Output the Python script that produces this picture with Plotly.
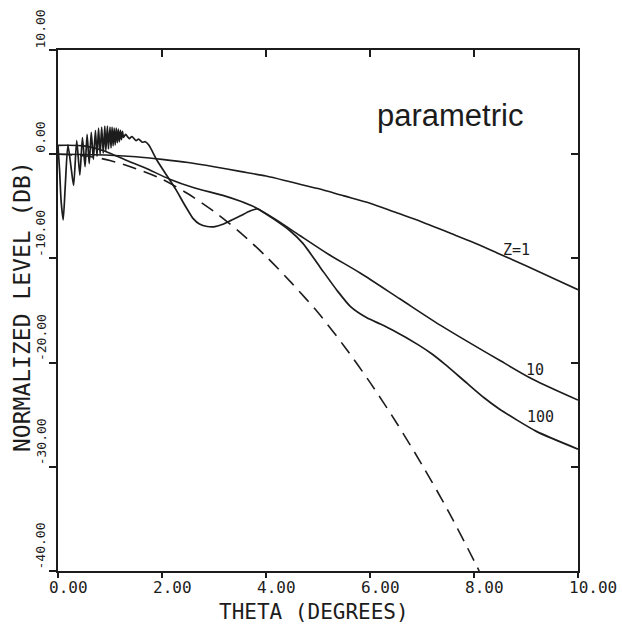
import plotly.graph_objects as go

# ---------------- data ----------------
z1_theta = [0.0, 0.5, 1.0, 1.5, 2.0, 2.5, 3.0, 3.5, 4.0, 4.5, 5.0, 5.5, 6.0, 6.5, 7.0, 7.5, 8.0, 8.5, 9.0, 9.5, 10.0]
z1_db = [0.0, -0.03, -0.1, -0.25, -0.5, -0.8, -1.2, -1.65, -2.1, -2.7, -3.3, -4.0, -4.7, -5.6, -6.5, -7.5, -8.5, -9.6, -10.7, -11.85, -13.0]

z10_theta = [0.0, 0.5, 0.8, 1.0, 1.3, 1.67, 2.15, 2.6, 3.17, 3.5, 3.83, 4.2, 4.65, 5.2, 5.81, 6.58, 7.35, 8.5, 9.13, 10.0]
z10_db = [0.85, 0.8, 0.45, 0.1, -0.55, -1.3, -2.4, -3.2, -3.95, -4.5, -5.2, -6.3, -7.8, -9.6, -11.4, -13.9, -16.4, -19.8, -21.6, -23.6]

z100_theta = [0.0, 0.03, 0.06, 0.10, 0.14, 0.19, 0.25, 0.30, 0.36, 0.42, 0.47, 0.52, 0.56, 0.60,
              0.64, 0.68, 0.72, 0.75, 0.78, 0.81, 0.84, 0.87, 0.90, 0.92, 0.95, 0.97, 1.00, 1.02,
              1.04, 1.06, 1.08, 1.10, 1.12, 1.14, 1.16, 1.18, 1.20, 1.22, 1.24, 1.26, 1.30, 1.37,
              1.42, 1.50, 1.55, 1.62, 1.68, 1.75, 1.90, 2.02, 2.15, 2.28, 2.40, 2.50, 2.60, 2.72,
              2.87, 3.02, 3.17, 3.33, 3.50, 3.69, 3.83, 4.00, 4.20, 4.45, 4.71, 5.04, 5.37, 5.62,
              5.94, 6.20, 6.44, 6.93, 7.20, 7.45, 7.87, 8.20, 8.50, 9.20, 10.0]
z100_db = [0.8, -1.5, -4.5, -6.3, -3.0, 0.9, -1.2, -3.0, 1.3, -2.0, 1.6, -1.2, 1.9, -0.9,
           2.1, -0.5, 2.3, -0.2, 2.5, 0.0, 2.6, 0.1, 2.7, 0.3, 2.7, 0.5, 2.6, 0.6,
           2.6, 0.8, 2.5, 0.9, 2.5, 1.1, 2.4, 1.2, 2.3, 1.4, 2.2, 1.6, 1.9, 1.5,
           1.7, 1.3, 1.45, 1.15, 1.2, 0.85, -0.56, -1.5, -2.47, -3.5, -4.56, -5.4, -6.18, -6.7,
           -6.94, -6.95, -6.73, -6.35, -5.94, -5.45, -5.25, -5.75, -6.4, -7.3, -8.56, -10.84, -13.1, -14.6,
           -15.7, -16.3, -16.9, -18.3, -19.2, -20.2, -22.0, -23.4, -24.5, -26.6, -28.3]

dash_theta = [0.0, 0.5, 1.0, 1.5, 2.0, 2.5, 3.0, 3.5, 4.0, 4.5, 5.0, 5.5, 6.0, 6.5, 7.0, 7.5, 8.0, 8.1]
dash_db = [0.0, -0.15, -0.6, -1.4, -2.4, -3.8, -5.5, -7.5, -9.8, -12.4, -15.2, -18.4, -21.9, -25.7, -29.8, -34.2, -39.0, -40.0]

x_ticks = [0, 2, 4, 6, 8, 10]
x_tick_labels = ["0.00", "2.00", "4.00", "6.00", "8.00", "10.00"]
y_ticks = [-40, -30, -20, -10, 0, 10]
y_tick_labels = ["-40.00", "-30.00", "-20.00", "-10.00", "0.00", "10.00"]

curve_labels = ["Z=1", "10", "100"]
curve_label_theta = [8.81, 9.17, 9.27]
curve_label_db = [-9.2, -20.7, -25.2]

INK = "#1c1c1c"
MONO = "DejaVu Sans Mono"

fig = go.Figure()
fig.add_trace(go.Scatter(x=z1_theta, y=z1_db, mode="lines",
                         line=dict(color=INK, width=1.6, shape="spline", smoothing=0.8)))
fig.add_trace(go.Scatter(x=z10_theta, y=z10_db, mode="lines",
                         line=dict(color=INK, width=1.6, shape="spline", smoothing=0.8)))
fig.add_trace(go.Scatter(x=z100_theta, y=z100_db, mode="lines",
                         line=dict(color=INK, width=1.7, shape="spline", smoothing=0.6)))
fig.add_trace(go.Scatter(x=dash_theta, y=dash_db, mode="lines",
                         line=dict(color=INK, width=1.6, dash="14px,8px", shape="spline", smoothing=0.8)))
# mirror axes carrier
fig.add_trace(go.Scatter(x=[None], y=[None], xaxis="x2", yaxis="y2", mode="lines", hoverinfo="skip"))

axis_common = dict(showline=True, linecolor=INK, linewidth=1.6, showgrid=False, zeroline=False,
                   showticklabels=False, tickcolor=INK, tickwidth=1.5)
fig.update_layout(
    width=622, height=629,
    margin=dict(l=58, r=44, t=50, b=58),
    paper_bgcolor="white", plot_bgcolor="white",
    showlegend=False,
    xaxis=dict(range=[0, 10], tickvals=x_ticks, ticks="outside", ticklen=5, **axis_common),
    yaxis=dict(range=[-40, 10], tickvals=y_ticks, ticks="outside", ticklen=7, **axis_common),
    xaxis2=dict(range=[0, 10], overlaying="x", side="top", anchor="y", tickvals=x_ticks[1:-1],
                ticks="inside", ticklen=7, **axis_common),
    yaxis2=dict(range=[-40, 10], overlaying="y", side="right", anchor="x", tickvals=y_ticks[1:-1],
                ticks="inside", ticklen=7, **axis_common),
)

ann = []
for v, t in zip(x_ticks, x_tick_labels):
    ann.append(dict(x=(v - 0.22) / 10.0, xref="paper", y=-0.031, yref="paper", text=t, showarrow=False,
                    xanchor="left", yanchor="middle", font=dict(family=MONO, size=16, color=INK)))
for v, t in zip(y_ticks, y_tick_labels):
    ann.append(dict(x=-0.0327, xref="paper", y=(v + 40) / 50.0, yref="paper", text=t, showarrow=False,
                    textangle=-90, xanchor="center", yanchor="bottom",
                    font=dict(family=MONO, size=13, color=INK)))
for t, xv, yv in zip(curve_labels, curve_label_theta, curve_label_db):
    ann.append(dict(x=xv, y=yv, xref="x", yref="y", text=t, showarrow=False,
                    xanchor="center", yanchor="middle",
                    font=dict(family=MONO, size=15, color=INK)))
ann.append(dict(x=7.54, y=3.7, xref="x", yref="y", text="parametric", showarrow=False,
                xanchor="center", yanchor="middle",
                font=dict(family="Liberation Sans", size=31, color=INK)))
ann.append(dict(x=0.492, y=-0.079, xref="paper", yref="paper", text="THETA (DEGREES)", showarrow=False,
                xanchor="center", yanchor="middle",
                font=dict(family=MONO, size=21, color=INK)))
ann.append(dict(x=-0.069, y=0.507, xref="paper", yref="paper", text="NORMALIZED LEVEL (DB)", showarrow=False,
                textangle=-90, xanchor="center", yanchor="middle",
                font=dict(family=MONO, size=23, color=INK)))
fig.update_layout(annotations=ann)

fig.write_html("out.html")
